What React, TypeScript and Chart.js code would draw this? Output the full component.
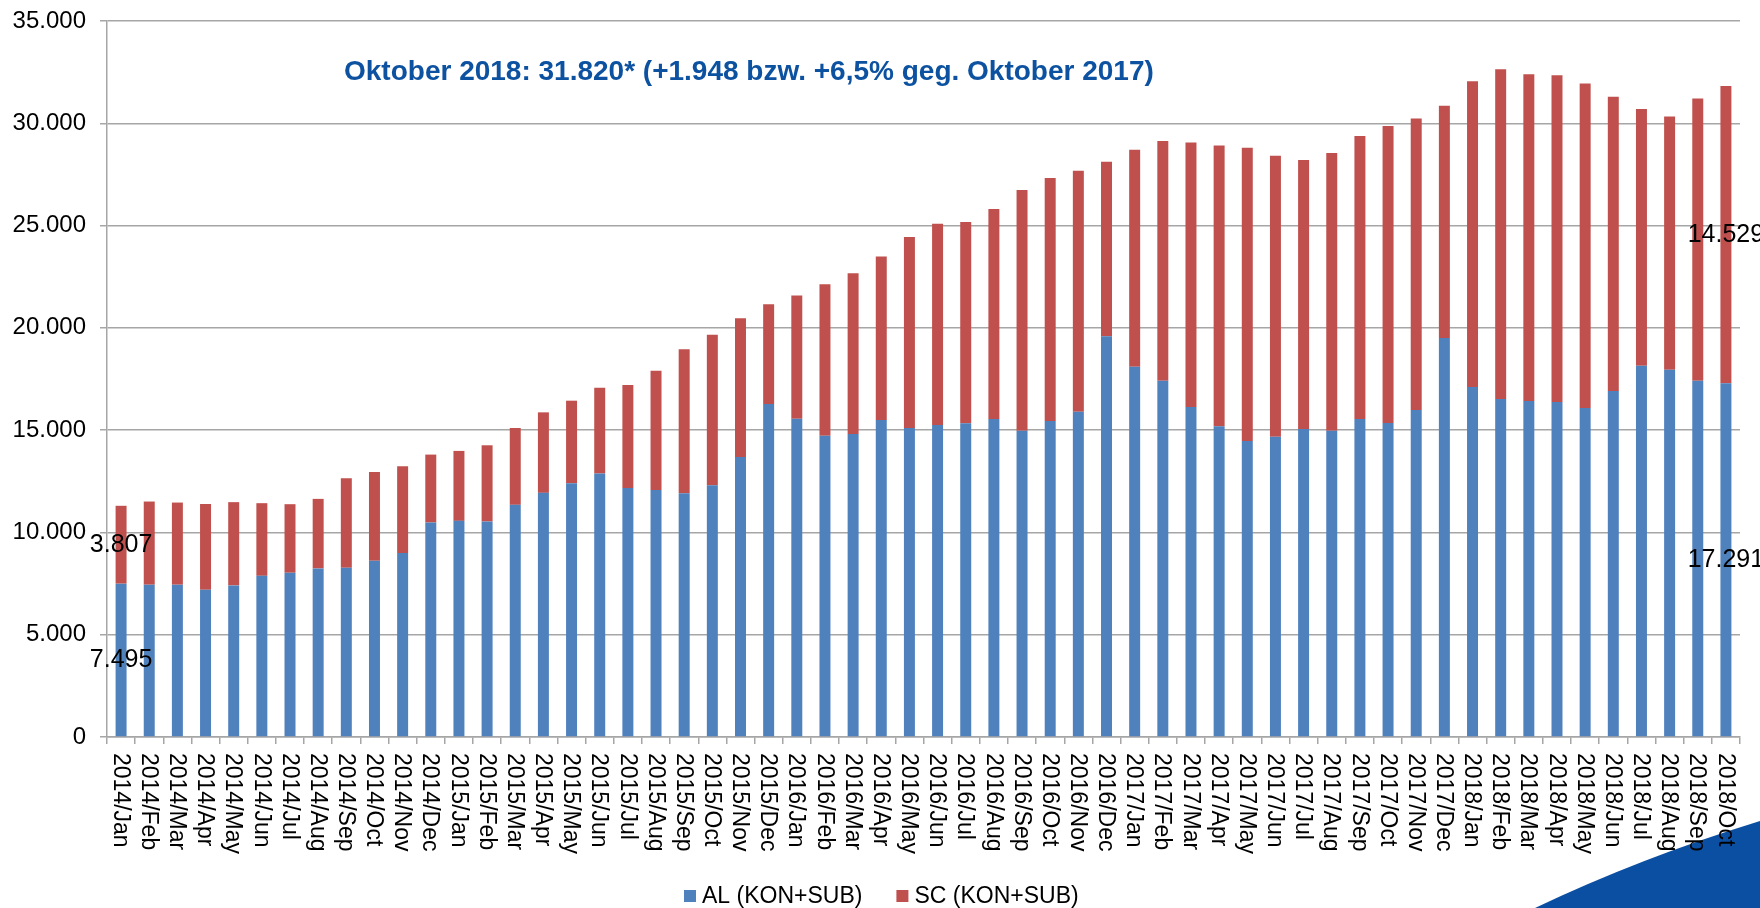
import { useEffect, useRef } from "react";
import { Chart, registerables } from "chart.js";

Chart.register(...registerables);

const categories: string[] = [
  "2014/Jan", "2014/Feb", "2014/Mar", "2014/Apr", "2014/May", "2014/Jun", "2014/Jul", "2014/Aug", "2014/Sep", "2014/Oct", "2014/Nov", "2014/Dec",
  "2015/Jan", "2015/Feb", "2015/Mar", "2015/Apr", "2015/May", "2015/Jun", "2015/Jul", "2015/Aug", "2015/Sep", "2015/Oct", "2015/Nov", "2015/Dec",
  "2016/Jan", "2016/Feb", "2016/Mar", "2016/Apr", "2016/May", "2016/Jun", "2016/Jul", "2016/Aug", "2016/Sep", "2016/Oct", "2016/Nov", "2016/Dec",
  "2017/Jan", "2017/Feb", "2017/Mar", "2017/Apr", "2017/May", "2017/Jun", "2017/Jul", "2017/Aug", "2017/Sep", "2017/Oct", "2017/Nov", "2017/Dec",
  "2018/Jan", "2018/Feb", "2018/Mar", "2018/Apr", "2018/May", "2018/Jun", "2018/Jul", "2018/Aug", "2018/Sep", "2018/Oct",
];

const alValues: number[] = [
  7495, 7445, 7445, 7200, 7410, 7880, 8030, 8240, 8270, 8610, 8990, 10485,
  10565, 10535, 11350, 11935, 12405, 12875, 12175, 12080, 11915, 12310, 13690, 16275,
  15560, 14730, 14810, 15495, 15105, 15250, 15335, 15545, 14975, 15450, 15900, 19595,
  18100, 17415, 16130, 15185, 14470, 14680, 15055, 14975, 15545, 15350, 15985, 19500,
  17105, 16520, 16425, 16375, 16080, 16910, 18150, 17955, 17415, 17291,
];

const scValues: number[] = [
  3807, 4065, 4015, 4195, 4070, 3550, 3350, 3400, 4380, 4350, 4245, 3320,
  3420, 3725, 3755, 3935, 4035, 4200, 5030, 5825, 7045, 7350, 6785, 4885,
  6020, 7405, 7860, 7990, 9340, 9845, 9840, 10265, 11765, 11875, 11785, 8525,
  10610, 11715, 12935, 13735, 14335, 13735, 13150, 13570, 13830, 14522, 14250, 11355,
  14955, 16125, 15975, 15975, 15865, 14385, 12545, 12380, 13800, 14529,
];

const seriesNames: string[] = ["AL (KON+SUB)", "SC (KON+SUB)"];
const seriesColors: string[] = ["#4F81BD", "#C0504D"];
const labeledIndices: number[] = [0, categories.length - 1];
const annotationText = "Oktober 2018: 31.820* (+1.948 bzw. +6,5% geg. Oktober 2017)";

const FONT = "'Liberation Sans', Arial, Helvetica, sans-serif";

const fmt = (v: number): string =>
  String(Math.round(v)).replace(/\B(?=(\d{3})+(?!\d))/g, ".");

const overlayPlugin = {
  id: "overlay",
  beforeDraw(chart: any) {
    const ctx: CanvasRenderingContext2D = chart.ctx;
    ctx.save();
    // decorative swoosh bottom right
    ctx.fillStyle = "#0B4FA2";
    ctx.beginPath();
    ctx.moveTo(1535, 908);
    ctx.quadraticCurveTo(1640, 858, 1760, 821);
    ctx.lineTo(1760, 908);
    ctx.closePath();
    ctx.fill();
    ctx.restore();
  },
  afterDraw(chart: any) {
    const ctx: CanvasRenderingContext2D = chart.ctx;
    const xs = chart.scales.x;
    const area = chart.chartArea;
    ctx.save();

    // rotated category labels (reading top to bottom)
    ctx.fillStyle = "#000";
    ctx.font = `23px ${FONT}`;
    ctx.textAlign = "left";
    ctx.textBaseline = "middle";
    categories.forEach((lab, i) => {
      const x = xs.getPixelForValue(i);
      ctx.save();
      ctx.translate(x - 1, area.bottom + 16);
      ctx.rotate(Math.PI / 2);
      ctx.fillText(lab, 0, 0);
      ctx.restore();
    });

    // data labels on first and last bar
    ctx.font = `25px ${FONT}`;
    ctx.textAlign = "center";
    labeledIndices.forEach((i) => {
      chart.data.datasets.forEach((ds: any, d: number) => {
        const el = chart.getDatasetMeta(d).data[i];
        if (!el) return;
        const p = el.getProps(["x", "y", "base"], true);
        ctx.fillText(fmt(ds.data[i]), p.x, (p.y + p.base) / 2);
      });
    });

    // annotation
    ctx.fillStyle = "#0D52A0";
    ctx.font = `bold 28px ${FONT}`;
    ctx.textAlign = "left";
    ctx.fillText(annotationText, 344, 72);

    // legend
    ctx.font = `23px ${FONT}`;
    let lx = 684;
    seriesNames.forEach((name, k) => {
      ctx.fillStyle = seriesColors[k];
      ctx.fillRect(lx, 890, 12, 12);
      ctx.fillStyle = "#000";
      ctx.fillText(name, lx + 18, 897);
      lx += 18 + ctx.measureText(name).width + 34;
    });

    ctx.restore();
  },
};

export default function App() {
  const ref = useRef<HTMLCanvasElement | null>(null);

  useEffect(() => {
    document.body.style.margin = "0";
    if (!ref.current) return;
    const chart = new Chart(ref.current, {
      type: "bar",
      data: {
        labels: categories,
        datasets: [
          {
            label: seriesNames[0],
            data: alValues,
            backgroundColor: seriesColors[0],
            barPercentage: 0.39,
            categoryPercentage: 1,
          },
          {
            label: seriesNames[1],
            data: scValues,
            backgroundColor: seriesColors[1],
            barPercentage: 0.39,
            categoryPercentage: 1,
          },
        ],
      },
      options: {
        responsive: false,
        animation: false,
        layout: { padding: { left: 0, right: 20, top: 21, bottom: 0 } },
        plugins: {
          legend: { display: false },
          tooltip: { enabled: false },
          title: { display: false },
        },
        scales: {
          x: {
            stacked: true,
            grid: {
              display: true,
              drawOnChartArea: false,
              drawTicks: true,
              tickLength: 7,
              color: "#A6A6A6",
              lineWidth: 1.5,
              offset: true,
            },
            border: { display: true, color: "#A6A6A6", width: 1.5 },
            ticks: { display: false },
            afterFit: (scale: any) => {
              scale.height = 171;
              scale.paddingLeft = 0;
              scale.paddingRight = 0;
            },
          },
          y: {
            stacked: true,
            min: 0,
            max: 35000,
            grid: {
              color: "#A6A6A6",
              lineWidth: 1.5,
              tickLength: 7,
            },
            border: { display: true, color: "#A6A6A6", width: 1.5 },
            ticks: {
              stepSize: 5000,
              padding: 14,
              color: "#000",
              font: { family: FONT, size: 24 },
              callback: (v: any) => fmt(Number(v)),
            },
            afterFit: (scale: any) => {
              scale.width = 107;
              scale.paddingTop = 0;
              scale.paddingBottom = 0;
            },
          },
        },
      },
      plugins: [overlayPlugin],
    });
    return () => chart.destroy();
  }, []);

  return (
    <div style={{ width: 1760, height: 908, background: "#fff" }}>
      <canvas ref={ref} width={1760} height={908} />
    </div>
  );
}
